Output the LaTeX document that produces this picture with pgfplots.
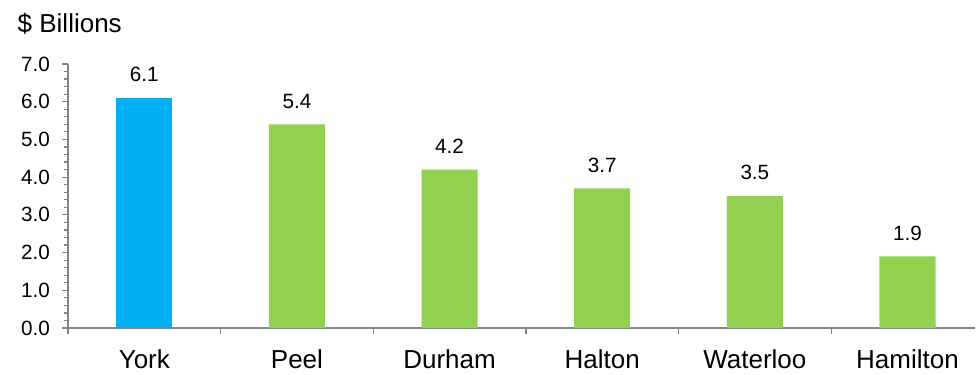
\documentclass[border=0pt]{standalone}
\usepackage{fontspec}
\setmainfont{Liberation Sans}
\usepackage{pgfplots}
\pgfplotsset{compat=1.18}

\definecolor{barblue}{HTML}{00B0F0}
\definecolor{bargreen}{HTML}{92D050}
\definecolor{axisgray}{HTML}{868686}

\begin{document}
\begin{tikzpicture}
\begin{axis}[
  scale only axis,
  width=680pt, height=198pt,
  xmin=-0.5, xmax=5.44,
  ymin=0, ymax=7,
  axis lines*=left,
  axis line style={draw=axisgray, line width=1pt},
  tick align=outside,
  major tick length=4.5pt,
  minor tick length=3pt,
  tick style={draw=axisgray, line width=0.9pt},
  ytick={0,1,...,7},
  minor y tick num=4,
  yticklabel style={font=\fontsize{15.5}{17}\selectfont, xshift=-5.5pt,
    /pgf/number format/fixed, /pgf/number format/fixed zerofill,
    /pgf/number format/precision=1, /pgf/number format/assume math mode=true},
  xtick={0,...,5},
  xticklabels={York,Peel,Durham,Halton,Waterloo,Hamilton},
  major x tick style={draw=none},
  xticklabel style={font=\fontsize{19.5}{21}\selectfont, yshift=-8.25pt},
  extra x ticks={-0.5,0.5,1.5,2.5,3.5,4.5},
  extra x tick labels={},
  extra x tick style={major x tick style={draw=axisgray, line width=0.9pt}},
  ybar, bar width=0.367, bar shift=0pt,
  nodes near coords={\pgfmathprintnumber[fixed,fixed zerofill,precision=1,assume math mode=true]{\pgfplotspointmeta}},
  nodes near coords style={font=\fontsize{15.5}{17}\selectfont, text=black, anchor=south, yshift=8.5pt},
  clip=false,
]
\addplot[fill=barblue, draw=none] coordinates {(0,6.1)};
\addplot[fill=bargreen, draw=none] coordinates {(1,5.4) (2,4.2) (3,3.7) (4,3.5) (5,1.9)};
\node[anchor=base west, font=\fontsize{19.5}{21}\selectfont] at (rel axis cs:0,1) [xshift=-41.25pt, yshift=24pt] {\$ Billions};
\end{axis}
\useasboundingbox (-51pt,-35.25pt) rectangle (681pt,246pt);
\end{tikzpicture}
\end{document}
